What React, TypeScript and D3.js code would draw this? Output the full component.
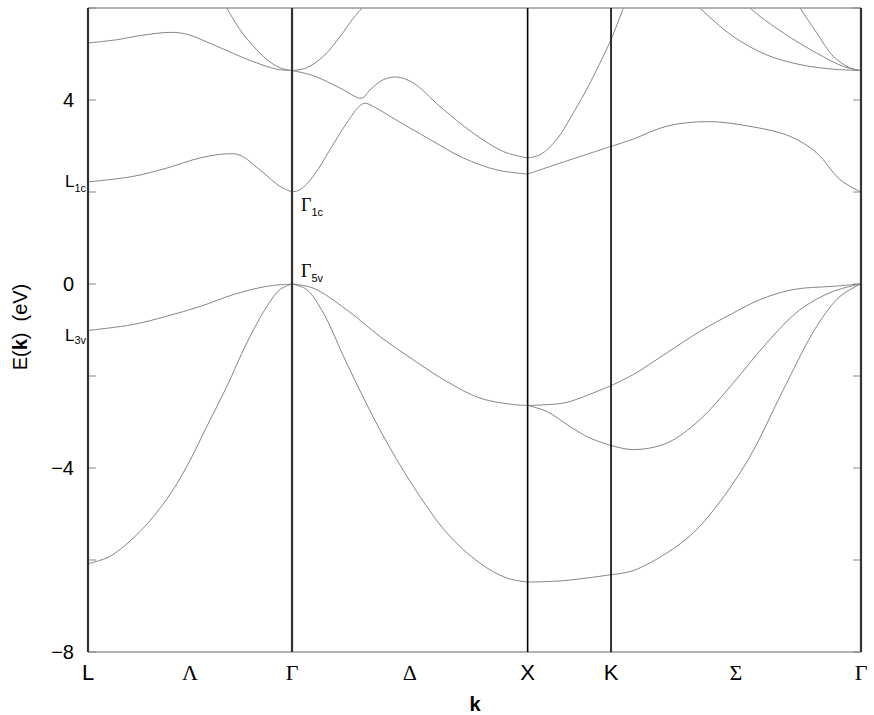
import React from 'react';
import * as d3 from 'd3';

// k-path: L -> Γ -> X -> K -> Γ  (units of 2π/a)
const kPoints = [0, 0.866, 1.866, 2.22, 3.281];
const kPointNames = ['L', 'Γ', 'X', 'K', 'Γ'];
const kLineNames = ['Λ', 'Δ', '', 'Σ'];

const yTicks = [-8, -6, -4, -2, 0, 2, 4, 6];
const yTickLabels = [-8, -4, 0, 4];

// bands, one array per segment: [k, E(eV)]
const bandsLG = [
  [[0, -6.08], [0.093, -5.92], [0.221, -5.38], [0.334, -4.68], [0.419, -3.97], [0.504, -3.1], [0.589, -2.23], [0.674, -1.28], [0.759, -0.49], [0.815, -0.12], [0.866, 0]],
  [[0, -1.01], [0.192, -0.88], [0.334, -0.7], [0.475, -0.49], [0.617, -0.23], [0.759, -0.05], [0.866, 0]],
  [[0, 2.22], [0.192, 2.34], [0.334, 2.52], [0.475, 2.74], [0.589, 2.83], [0.645, 2.8], [0.73, 2.48], [0.815, 2.12], [0.866, 2.0]],
  [[0, 5.24], [0.122, 5.31], [0.221, 5.4], [0.348, 5.47], [0.419, 5.43], [0.546, 5.17], [0.688, 4.86], [0.801, 4.67], [0.866, 4.64]],
  [[0.556, 6.3], [0.589, 6.0], [0.645, 5.53], [0.702, 5.17], [0.759, 4.88], [0.815, 4.7], [0.866, 4.64]],
];

const bandsGX = [
  [[0.866, 0], [0.928, -0.12], [0.999, -0.63], [1.098, -1.72], [1.239, -3.17], [1.381, -4.4], [1.523, -5.41], [1.664, -6.07], [1.777, -6.39], [1.866, -6.48]],
  [[0.866, 0], [0.956, -0.09], [1.098, -0.56], [1.239, -1.14], [1.381, -1.65], [1.523, -2.12], [1.664, -2.48], [1.805, -2.62], [1.866, -2.64]],
  [[0.866, 2.0], [0.9, 2.05], [0.956, 2.34], [1.027, 2.92], [1.098, 3.5], [1.155, 3.88], [1.176, 3.93], [1.211, 3.86], [1.31, 3.56], [1.452, 3.14], [1.593, 2.74], [1.735, 2.48], [1.866, 2.39]],
  [[0.866, 4.64], [0.956, 4.53], [1.07, 4.26], [1.162, 4.04], [1.197, 4.22], [1.253, 4.44], [1.31, 4.5], [1.381, 4.37], [1.494, 3.86], [1.635, 3.28], [1.763, 2.88], [1.866, 2.74]],
  [[0.866, 4.64], [0.928, 4.7], [0.999, 4.95], [1.07, 5.38], [1.126, 5.78], [1.162, 6.0], [1.19, 6.3]],
];

const bandsXK = [
  [[1.866, -6.48], [2.017, -6.45], [2.22, -6.32]],
  [[1.866, -2.64], [1.947, -2.77], [2.046, -3.1], [2.131, -3.35], [2.22, -3.51]],
  [[1.866, -2.64], [2.017, -2.59], [2.088, -2.48], [2.22, -2.21]],
  [[1.866, 2.39], [2.046, 2.7], [2.22, 2.99]],
  [[1.866, 2.74], [1.919, 2.81], [1.989, 3.14], [2.06, 3.72], [2.131, 4.37], [2.22, 5.31]],
];

const bandsKG = [
  [[2.22, -6.32], [2.314, -6.23], [2.456, -5.85], [2.569, -5.41], [2.668, -4.83], [2.81, -3.75], [2.951, -2.3], [3.093, -0.92], [3.192, -0.27], [3.281, 0]],
  [[2.22, -3.51], [2.314, -3.6], [2.456, -3.46], [2.597, -2.95], [2.739, -2.15], [2.881, -1.28], [3.022, -0.56], [3.163, -0.16], [3.281, 0]],
  [[2.22, -2.21], [2.314, -1.97], [2.456, -1.5], [2.597, -1.03], [2.739, -0.63], [2.852, -0.34], [2.994, -0.12], [3.163, -0.05], [3.281, 0]],
  [[2.22, 2.99], [2.314, 3.15], [2.456, 3.43], [2.626, 3.53], [2.796, 3.44], [2.98, 3.21], [3.093, 2.85], [3.192, 2.27], [3.281, 2.0]],
  [[2.22, 5.31], [2.272, 6.0], [2.29, 6.3]],
  [[2.55, 6.25], [2.597, 6.0], [2.739, 5.38], [2.881, 4.98], [3.022, 4.77], [3.163, 4.67], [3.281, 4.64]],
  [[2.77, 6.25], [2.81, 6.0], [2.951, 5.46], [3.093, 5.02], [3.206, 4.73], [3.281, 4.64]],
  [[2.99, 6.25], [3.022, 6.0], [3.093, 5.46], [3.163, 4.95], [3.234, 4.7], [3.281, 4.64]],
];

// symmetry-point level labels
const levelNames = ['L', 'L', 'Γ', 'Γ'];
const levelSubs = ['1c', '3v', '1c', '5v'];
const levelK = [0, 0, 0.866, 0.866];
const levelE = [2.22, -1.01, 2.0, 0];

const isGreek = (s: string) => /[\u0370-\u03ff]/.test(s);
const SANS = '"Liberation Sans", Arial, sans-serif';
const SERIF = '"Liberation Serif", "Times New Roman", serif';

export default function App() {
  const width = 874;
  const height = 715;
  const x = d3.scaleLinear().domain([0, 3.281]).range([88, 861]);
  const y = d3.scaleLinear().domain([-8, 6]).range([652, 8]);

  const line = d3.line<number[]>()
    .x(d => x(d[0]))
    .y(d => y(d[1]))
    .curve(d3.curveCatmullRom.alpha(0.5));

  const allBands = [...bandsLG, ...bandsGX, ...bandsXK, ...bandsKG];

  // offsets for level labels: [x offset, baseline offset, sub shift, anchor]
  const labelPos: [number, number, number, string][] = [
    [-2, 5, 5, 'end'],
    [-2, 11, 3, 'end'],
    [9, 18.5, 5, 'start'],
    [9, -7, 4.5, 'start'],
  ];

  return (
    <svg width={width} height={height} style={{ position: 'absolute', left: 0, top: 0, background: '#fff' }}>
      <defs>
        <clipPath id="plot">
          <rect x={88} y={8} width={773} height={644} />
        </clipPath>
      </defs>

      {/* bands */}
      <g clipPath="url(#plot)" fill="none" stroke="#858585" strokeWidth={1}>
        {allBands.map((b, i) => (
          <path key={i} d={line(b) || ''} />
        ))}
      </g>

      {/* frame top/bottom */}
      <line x1={88} x2={861} y1={8} y2={8} stroke="#999" strokeWidth={1.5} />
      <line x1={88} x2={861} y1={652} y2={652} stroke="#999" strokeWidth={1.5} />

      {/* ticks */}
      {yTicks.map(t => (
        <g key={t} stroke="#888" strokeWidth={1}>
          <line x1={88} x2={96} y1={y(t)} y2={y(t)} />
          <line x1={853} x2={861} y1={y(t)} y2={y(t)} />
        </g>
      ))}

      {/* symmetry point lines */}
      {kPoints.map((k, i) => (
        <line key={i} x1={x(k)} x2={x(k)} y1={8} y2={652}
          stroke={kPointNames[i] === 'X' || kPointNames[i] === 'K' ? '#000' : '#333'}
          strokeWidth={kPointNames[i] === 'X' || kPointNames[i] === 'K' ? 1.6 : 2.2} />
      ))}

      {/* y tick labels */}
      {yTickLabels.map(t => (
        <text key={t} x={74} y={y(t)} dy="0.36em" textAnchor="end" fontFamily={SANS} fontSize={20}>
          {t < 0 ? '\u2212' + Math.abs(t) : t}
        </text>
      ))}

      {/* x labels */}
      {kPoints.map((k, i) => (
        <text key={'p' + i} x={x(k)} y={680} textAnchor="middle"
          fontFamily={isGreek(kPointNames[i]) ? SERIF : SANS} fontSize={22}>
          {kPointNames[i]}
        </text>
      ))}
      {kLineNames.map((n, i) => n && (
        <text key={'l' + i} x={x((kPoints[i] + kPoints[i + 1]) / 2)} y={680} textAnchor="middle"
          fontFamily={SERIF} fontSize={22}>
          {n}
        </text>
      ))}

      {/* level labels */}
      {levelNames.map((n, i) => {
        const [dx, dy, ds, anchor] = labelPos[i];
        return (
          <text key={'v' + i} x={x(levelK[i]) + dx} y={y(levelE[i]) + dy} textAnchor={anchor}>
            <tspan fontFamily={isGreek(n) ? SERIF : SANS} fontSize={isGreek(n) ? 18 : 17}>{n}</tspan>
            <tspan fontFamily={SANS} fontSize={11} dy={ds}>{levelSubs[i]}</tspan>
          </text>
        );
      })}

      {/* axis titles */}
      <text x={475} y={711} textAnchor="middle" fontFamily={SANS} fontSize={20} fontWeight="bold">k</text>
      <text transform="translate(27,327) rotate(-90)" textAnchor="middle" fontFamily={SANS} fontSize={20}>
        E(<tspan fontWeight="bold">k</tspan>)<tspan dx={11}>(eV)</tspan>
      </text>
    </svg>
  );
}
